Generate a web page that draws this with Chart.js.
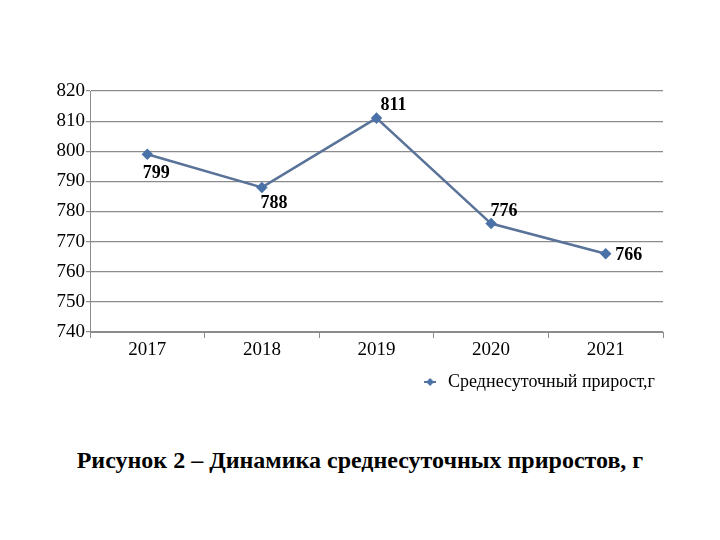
<!DOCTYPE html>
<html><head><meta charset="utf-8">
<script src="https://cdn.jsdelivr.net/npm/chart.js@4"></script>
<style>
html,body{margin:0;padding:0;background:#fff;}
#wrap{position:relative;width:720px;height:540px;}
#c{position:absolute;left:0;top:0;}
#cap{position:absolute;left:0;top:447px;width:720px;text-align:center;font-family:"Liberation Serif",serif;font-weight:bold;font-size:24px;color:#000;}
</style></head>
<body>
<div id="wrap">
<canvas id="c" width="720" height="410"></canvas>
<div id="cap">Рисунок 2 – Динамика среднесуточных приростов, г</div>
</div>
<script>
const years = ['2017','2018','2019','2020','2021'];
const gain = [799, 788, 811, 776, 766];
const seriesName = 'Среднесуточный прирост,г';
const yMin = 740, yMax = 820, yStep = 10;

const FONT = "'Liberation Serif', serif";
const labelOffsets = [[9,19],[12,16],[17,-13],[13,-12],[23,2]];

const labelPlugin = {
  id:'vals',
  afterDatasetsDraw(chart){
    const ctx = chart.ctx;
    const meta = chart.getDatasetMeta(0);
    ctx.save();
    ctx.font = 'bold 18px ' + FONT;
    ctx.fillStyle = '#000';
    ctx.textAlign = 'center';
    ctx.textBaseline = 'middle';
    meta.data.forEach((p,i)=>{
      const o = labelOffsets[i];
      ctx.fillText(String(gain[i]), p.x + o[0], p.y + o[1]);
    });
    ctx.restore();
  }
};

function legendIcon(){
  const c = document.createElement('canvas');
  c.width = 12; c.height = 10;
  const x = c.getContext('2d');
  x.strokeStyle = '#5a7399'; x.lineWidth = 2;
  x.beginPath(); x.moveTo(0,5); x.lineTo(12,5); x.stroke();
  x.fillStyle = '#4a72a8';
  x.beginPath(); x.moveTo(6,1); x.lineTo(10,5); x.lineTo(6,9); x.lineTo(2,5); x.closePath(); x.fill();
  return c;
}
const icon = legendIcon();

new Chart(document.getElementById('c'), {
  type:'line',
  data:{
    labels: years,
    datasets:[{
      label: seriesName,
      data: gain,
      borderColor:'#5a7399',
      borderWidth:2.5,
      pointStyle:'rectRot',
      pointRadius:4,
      pointBackgroundColor:'#4a72a8',
      pointBorderColor:'#4a72a8',
      tension:0
    }]
  },
  options:{
    responsive:false,
    animation:false,
    layout:{padding:{left:0,right:57,top:91,bottom:9}},
    plugins:{
      tooltip:{enabled:false},
      legend:{
        position:'bottom', align:'end',
        labels:{
          font:{family:FONT,size:18}, color:'#000',
          usePointStyle:true, padding:8,
          generateLabels(chart){
            return [{text:seriesName, pointStyle:icon, fillStyle:'#4a72a8', strokeStyle:'#4a72a8', lineWidth:0, datasetIndex:0, fontColor:'#000'}];
          }
        }
      }
    },
    scales:{
      x:{
        offset:true,
        grid:{offset:true, drawOnChartArea:false, drawTicks:true, tickLength:6, color:'#8c8c8c'},
        border:{display:true, color:'#8c8c8c'},
        ticks:{font:{family:FONT,size:19}, color:'#000', padding:1},
        afterFit(s){ s.height = 33; }
      },
      y:{
        min:yMin, max:yMax,
        ticks:{stepSize:yStep, font:{family:FONT,size:19}, color:'#000', padding:1},
        grid:{color:'#8c8c8c', tickLength:4, lineWidth:1.2},
        border:{display:true, color:'#8c8c8c'},
        afterFit(s){ s.width = 90; }
      }
    }
  },
  plugins:[labelPlugin]
});
</script>
</body></html>
